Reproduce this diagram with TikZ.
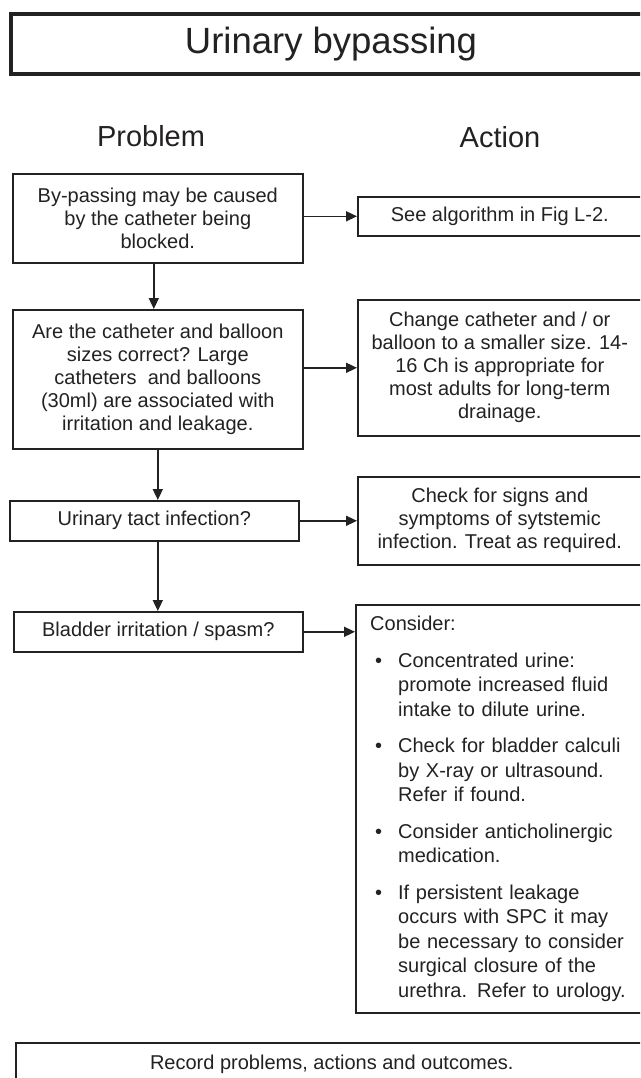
\documentclass[tikz,border=0pt]{standalone}
\usepackage{fontspec}
\setmainfont{Liberation Sans}
\usetikzlibrary{arrows.meta,calc}
\definecolor{ink}{RGB}{35,33,33}
\newcommand\bulitem[1]{\par\hangindent=28pt\hangafter=1\noindent\makebox[28pt][l]{\hspace{5pt}\textbullet}#1}
\begin{document}
\begin{tikzpicture}[x=1pt,y=-1pt,
  box/.style={draw=ink,line width=1.6pt,anchor=north west,inner sep=0pt,align=center,
    text=ink,font=\fontsize{20}{23}\selectfont},
  head/.style={text=ink,inner sep=0pt,font=\fontsize{29}{32}\selectfont},
  arr/.style={draw=ink,line width=1.6pt,-{Triangle[length=11pt,width=10pt]}}]
\useasboundingbox (0,0) rectangle (640,1078);
\clip (0,0) rectangle (640,1078);
\fill[white] (0,0) rectangle (640,1078);

% title
\node[box,line width=4pt,minimum width=640pt,minimum height=60pt,
  font=\fontsize{36.5}{40}\selectfont] (title) at (9,12) {Urinary bypassing};

% headings
\node[head] (hp) at (151,136) {Problem};
\node[head] (ha) at (500,137) {Action};

% problem column
\node[box,minimum width=290pt,minimum height=89pt] (b1) at (12,173)
  {By-passing may be caused\\by the catheter being\\blocked.};
\node[box,minimum width=290pt,minimum height=139pt] (b2) at (12,309)
  {Are the catheter and balloon\\sizes correct? Large\\catheters\ \ and balloons\\(30ml) are associated with\\irritation and leakage.};
\node[box,minimum width=289pt,minimum height=40pt] (b3) at (9,500)
  {Urinary tact infection?};
\node[box,minimum width=289pt,minimum height=40pt] (b4) at (13,611)
  {Bladder irritation / spasm?};

% action column
\node[box,minimum width=284pt,minimum height=39pt] (a1) at (357,196)
  {See algorithm in Fig L-2.};
\node[box,minimum width=284pt,minimum height=136pt] (a2) at (357,299)
  {Change catheter and / or\\balloon to a smaller size. 14-\\16 Ch is appropriate for\\most adults for long-term\\drainage.};
\node[box,minimum width=284pt,minimum height=88pt] (a3) at (357,476)
  {Check for signs and\\symptoms of sytstemic\\infection. Treat as required.};
\node[box,minimum width=286pt,minimum height=408pt] (a4) at (355,604) {};
\node[anchor=north west,inner sep=0pt,text width=265pt,align=left,text=ink,
  font=\fontsize{20}{24.5}\selectfont] (a4t) at (370,616)
  {\setlength\parskip{12pt}Consider:%
   \bulitem{Concentrated urine:\newline promote increased fluid\newline intake to dilute urine.}%
   \bulitem{Check for bladder calculi\newline by X-ray or ultrasound.\newline Refer if found.}%
   \bulitem{Consider anticholinergic\newline medication.}%
   \bulitem{If persistent leakage\newline occurs with SPC it may\newline be necessary to consider\newline surgical closure of the\newline urethra. Refer to urology.}\par};

% record box
\node[box,minimum width=632pt,minimum height=44pt] (rec) at (15,1042)
  {Record problems, actions and outcomes.};

% connectors
\draw[arr] ([xshift=-4pt]b1.south) -- ([xshift=-4pt]b1.south |- b2.north);
\draw[arr] (b2.south) -- (b2.south |- b3.north);
\draw[arr] (b3.south -| b2.south) -- (b2.south |- b4.north);
\draw[arr] (b1.east |- a1.west) -- (a1.west);
\draw[arr] (b2.east |- a2.west) -- (a2.west);
\draw[arr] (b3.east) -- (b3.east -| a3.west);
\draw[arr] (b4.east) -- (b4.east -| a4.west);
\end{tikzpicture}
\end{document}
